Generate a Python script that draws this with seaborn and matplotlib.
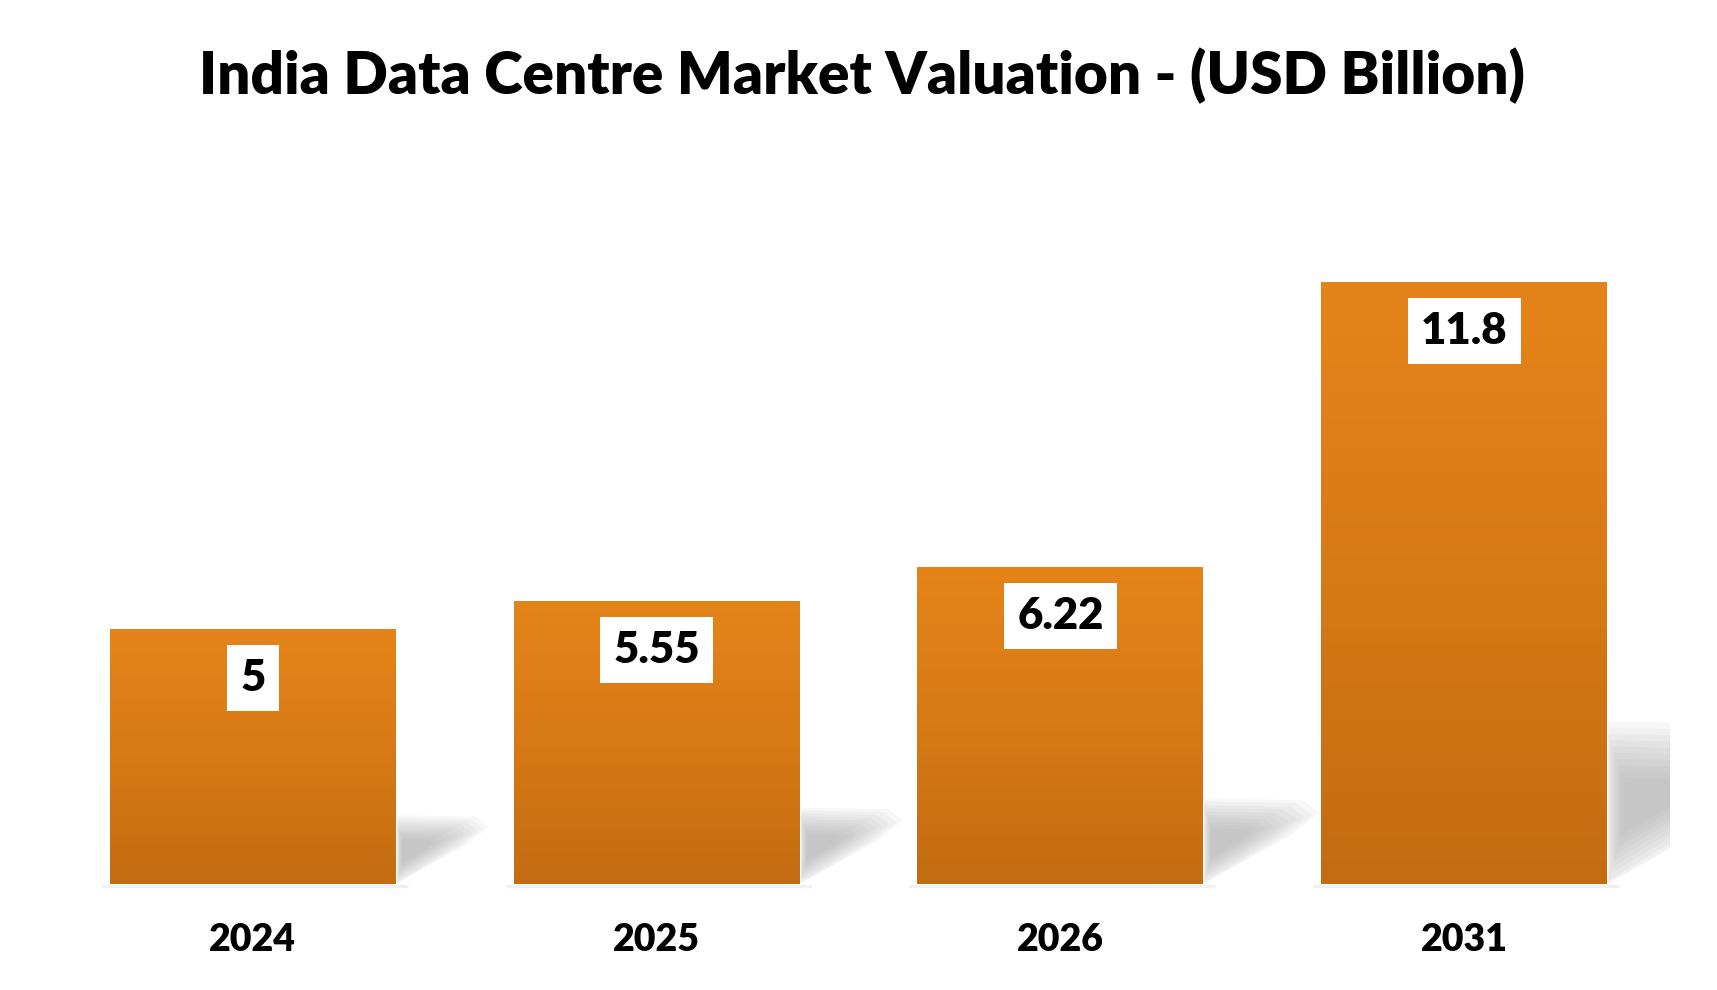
import numpy as np
import pandas as pd
import matplotlib
matplotlib.use("Agg")
import matplotlib.pyplot as plt
from matplotlib.colors import LinearSegmentedColormap
from matplotlib.patches import Polygon
import seaborn as sns

# ---- data ----
years = ["2024", "2025", "2026", "2031"]
values = [5, 5.55, 6.22, 11.8]
value_labels = ["5", "5.55", "6.22", "11.8"]
title = "India Data Centre Market Valuation - (USD Billion)"

sns.set_theme(style="white")
plt.rcParams["font.family"] = ["Lato", "DejaVu Sans"]
WEIGHT = "heavy"

df = pd.DataFrame({"year": years, "value": values})

fig = plt.figure(figsize=(17.17, 9.9), dpi=100)
fig.patch.set_facecolor("white")
ax = fig.add_axes([51 / 1717, 106 / 990, 1619 / 1717, 683.4 / 990])
ax.set_facecolor("white")

sns.barplot(data=df, x="year", y="value", color="#D77A16", width=0.708,
            ax=ax, saturation=1, zorder=3)

top_c = "#E5841A"
bot_c = "#C36C12"
cmap = LinearSegmentedColormap.from_list("bar", [top_c, "#D77915", bot_c])
grad = np.linspace(0, 1, 256).reshape(-1, 1)

bars = list(ax.patches)
for p, v in zip(bars, values):
    x0 = p.get_x()
    w = p.get_width()
    h = p.get_height()
    im = ax.imshow(grad, cmap=cmap, aspect="auto", origin="upper",
                   extent=[x0, x0 + w, 0, h], zorder=4)
    im.set_clip_path(p)
    # soft shadow to the right of the bar
    xr = x0 + w
    sx = 0.042 * v
    shape = np.array([(0, 0), (0.75, 0.15), (1.0, 0.215), (0.85, 0.25), (0, 0.255)])
    anchor = np.array([0.12, 0.13])
    n = 10
    for k in range(n):
        s = 1.12 - 0.75 * k / (n - 1)
        pts = anchor + (shape - anchor) * s
        pts[:, 0] = np.maximum(pts[:, 0], 0)
        pts[:, 1] = np.maximum(pts[:, 1], 0)
        xy = np.column_stack([xr + pts[:, 0] * sx, pts[:, 1] * v])
        ax.add_patch(Polygon(xy, closed=True, facecolor="#9a9a9a",
                             edgecolor="none", alpha=0.07, zorder=1))
    # faint line below bar
    ax.plot([x0 - 0.02, xr + 0.03], [-0.04, -0.04], color="#f0f0f0",
            lw=2.5, zorder=1, clip_on=False, solid_capstyle="butt")

for p, lab in zip(bars, value_labels):
    cx = p.get_x() + p.get_width() / 2
    ax.annotate(lab, xy=(cx, p.get_height()), xytext=(0, -49),
                textcoords="offset pixels", ha="center", va="center",
                fontsize=31.5, fontweight=WEIGHT, color="black", zorder=6,
                bbox=dict(boxstyle="square,pad=0.3", facecolor="white",
                          edgecolor="none"))

ax.set_xlim(-0.5, 3.51)
ax.set_ylim(0, 13.4)
ax.set_xlabel("")
ax.set_ylabel("")
ax.set_yticks([])
ax.tick_params(axis="x", length=0, pad=28, labelsize=27, labelcolor="black")
for t in ax.get_xticklabels():
    t.set_fontweight(WEIGHT)
for s in ax.spines.values():
    s.set_visible(False)

fig.text(0.502, 1 - 76 / 990, title, ha="center", va="center",
         fontsize=42, fontweight=WEIGHT, color="black")

fig.savefig("out.png", dpi=100, facecolor="white")
